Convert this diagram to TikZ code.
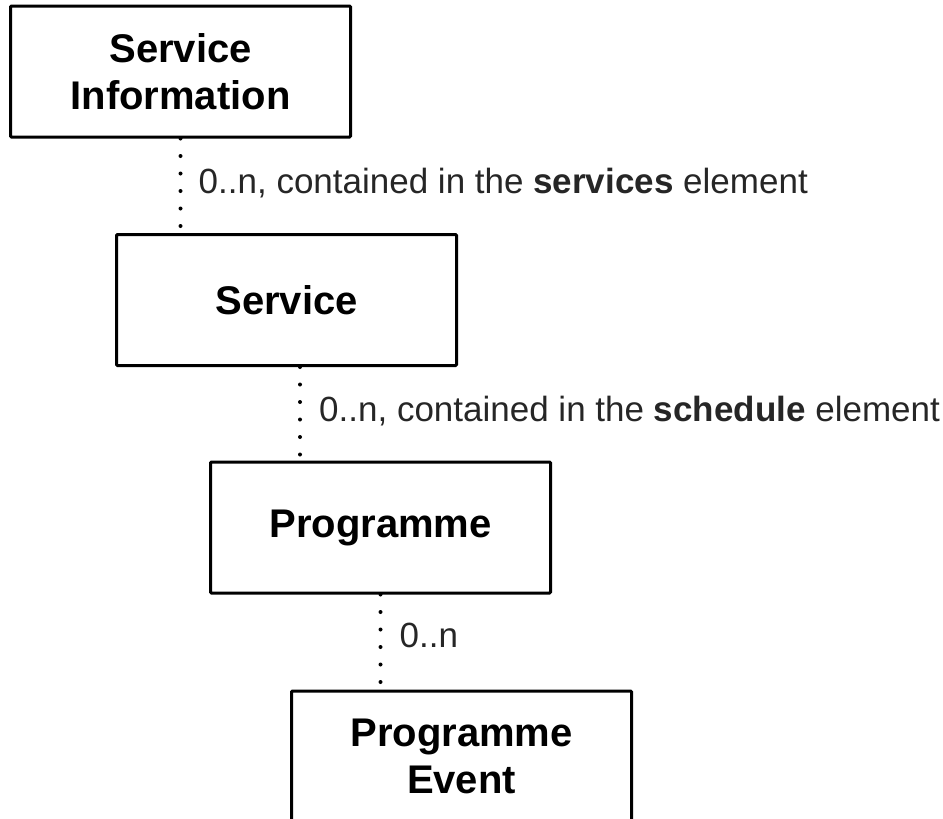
\documentclass[tikz,border=0pt]{standalone}
\usepackage{fontspec}
\setmainfont{Liberation Sans}
\begin{document}
\begin{tikzpicture}[x=1pt,y=-1pt,
  entity/.style={draw, line width=3pt, rounded corners=1pt, minimum width=340pt,
    minimum height=131pt, inner sep=0pt, align=center,
    font=\bfseries\fontsize{40}{47}\selectfont},
  link/.style={line width=4pt, line cap=round, dash pattern=on 0pt off 17.5pt},
  mult/.style={anchor=base west, inner sep=0pt, text=black!85,
    font=\fontsize{35}{42}\selectfont}]
\useasboundingbox (0,0) rectangle (943,819);

% entity boxes
\node[entity] (info)  at (180.5,71.5) {Service\\Information};
\node[entity] (serv)  at (286.5,300)  {Service};
\node[entity] (prog)  at (380.5,527.5) {Programme};
\node[entity] (event) at (461.5,756.5) {Programme\\Event};

% attachment points on the boxes
\coordinate (s1) at (info.south);
\coordinate (s2) at ([xshift=13.5pt]serv.south);
\coordinate (s3) at (prog.south);

% dotted containment links
\draw[link] (s1) -- (s1 |- serv.north);
\draw[link] (s2) -- (s2 |- prog.north);
\draw[link] (s3) -- (s3 |- event.north);

% multiplicity labels
\node[mult] (m1) at ([xshift=18pt,yshift=-55pt]s1) {0..n, contained in the \textbf{services} element};
\node[mult] (m2) at ([xshift=19pt,yshift=-54pt]s2) {0..n, contained in the \textbf{schedule} element};
\node[mult] (m3) at ([xshift=19pt,yshift=-53pt]s3) {0..n};
\end{tikzpicture}
\end{document}
